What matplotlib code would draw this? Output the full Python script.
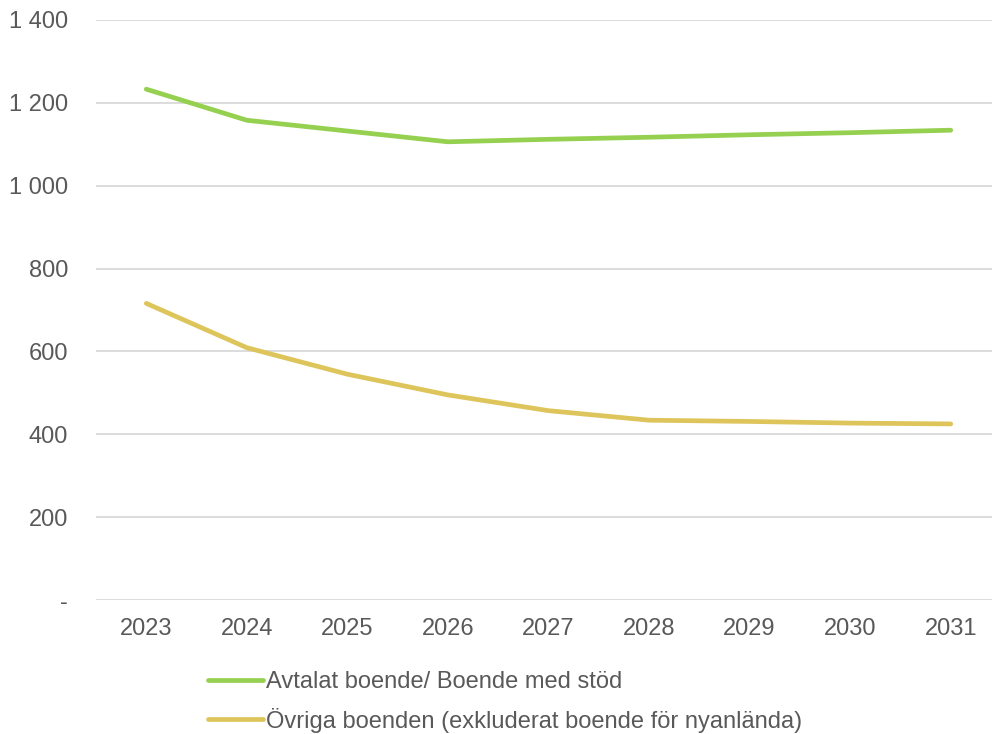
import matplotlib
matplotlib.use("Agg")
import matplotlib.pyplot as plt
from matplotlib.ticker import FuncFormatter

plt.rcParams['font.family'] = ['Liberation Sans', 'DejaVu Sans']

years = ["2023", "2024", "2025", "2026", "2027", "2028", "2029", "2030", "2031"]
avtalat = [1233, 1158, 1132, 1106, 1112, 1117, 1123, 1128, 1134]
ovriga = [716, 609, 545, 495, 457, 434, 431, 427, 425]
labels = ["Avtalat boende/ Boende med stöd",
          "Övriga boenden (exkluderat boende för nyanlända)"]
colors = ["#96D050", "#DEC55B"]

text_color = "#595959"
grid_color = "#D9D9D9"

fig = plt.figure(figsize=(9.92, 7.34), dpi=100)
ax = fig.add_axes([96 / 992, 1 - 600 / 734, 905 / 992, 580 / 734])

x = range(len(years))
for vals, lab, col in zip([avtalat, ovriga], labels, colors):
    ax.plot(x, vals, color=col, lw=3.4, label=lab, solid_capstyle="round",
            solid_joinstyle="round", zorder=3)

ax.set_xlim(-0.5, len(years) - 0.5)
ax.set_ylim(0, 1400)
ax.set_yticks(range(0, 1401, 200))
ax.set_xticks(list(x))
ax.set_xticklabels(years)


def fmt(v, pos):
    if v == 0:
        return "-"
    return f"{int(v):,}".replace(",", " ")


ax.yaxis.set_major_formatter(FuncFormatter(fmt))
ax.grid(axis="y", color=grid_color, lw=1.3, zorder=0)
ax.set_axisbelow(True)
for s in ax.spines.values():
    s.set_visible(False)
ax.tick_params(axis="both", length=0, labelsize=17, colors=text_color)
ax.tick_params(axis="y", pad=20)
ax.tick_params(axis="x", pad=13)

fig.legend(loc="upper left", bbox_to_anchor=(208 / 992, 1 - 671 / 734),
           frameon=False, fontsize=17, handlelength=2.35, handletextpad=0.1,
           borderpad=0, borderaxespad=0, labelspacing=0.62,
           labelcolor=text_color)

fig.savefig("out.png", dpi=100, facecolor="white")
